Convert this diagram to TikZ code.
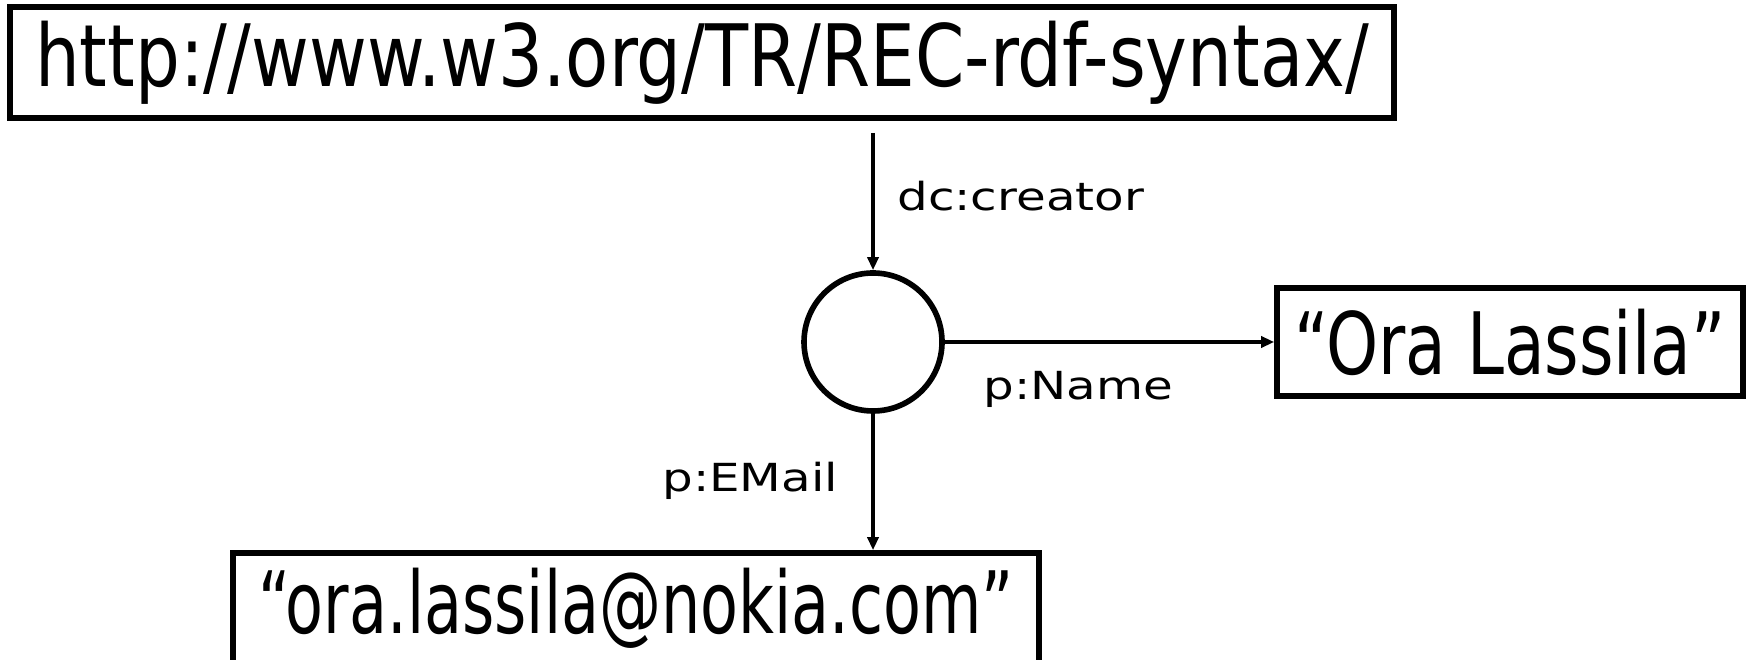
\documentclass[tikz,border=0pt]{standalone}
\usepackage{fontspec}
\setmainfont{DejaVu Sans}
\newfontfamily\urlfont[FakeStretch=0.82]{DejaVu Sans}
\newfontfamily\namefont[FakeStretch=0.77]{DejaVu Sans}
\newfontfamily\mailfont[FakeStretch=0.72]{DejaVu Sans}
\newfontfamily\propfont[FakeStretch=1.25]{DejaVu Sans}
\usepackage{tikz}
\usetikzlibrary{arrows.meta}

\begin{document}
\begin{tikzpicture}[
  res/.style={draw, line width=3.2pt, rectangle, inner sep=0pt},
  blank/.style={draw, line width=3.2pt, circle, minimum size=2.76cm, inner sep=0pt},
  arc/.style={line width=2.3pt, -{Triangle[length=0.26cm, width=0.22cm]}},
  prop/.style={font=\propfont\fontsize{22}{24}\selectfont, inner sep=0pt}
]
\useasboundingbox (0,0) rectangle (34.94,13.2);
\path (14.04,11.95) node[res, minimum width=27.68cm, minimum height=2.22cm, font=\urlfont\fontsize{49}{52}\selectfont] (url) {http://www.w3.org/TR/REC-rdf-syntax/};
\path (17.46,6.36) node[blank] (bn) {};
\path (30.2,6.36) node[res, minimum width=9.32cm, minimum height=2.16cm, font=\namefont\fontsize{49}{52}\selectfont] (name) {“Ora Lassila”};
\path (12.72,1.04) node[res, minimum width=16.12cm, minimum height=2.2cm, font=\mailfont\fontsize{49}{52}\selectfont] (mail) {“ora.lassila@nokia.com”};
\coordinate (crtop) at (17.46,10.54);
\draw[arc] (crtop) -- (bn);
\draw[arc] (bn) -- (name);
\draw[arc] (bn) -- (bn |- mail.north);
\path (17.94,8.98) node[prop, anchor=base west] {dc:creator};
\path (19.66,5.2) node[prop, anchor=base west] {p:Name};
\path (13.24,3.36) node[prop, anchor=base west] {p:EMail};
\end{tikzpicture}
\end{document}
